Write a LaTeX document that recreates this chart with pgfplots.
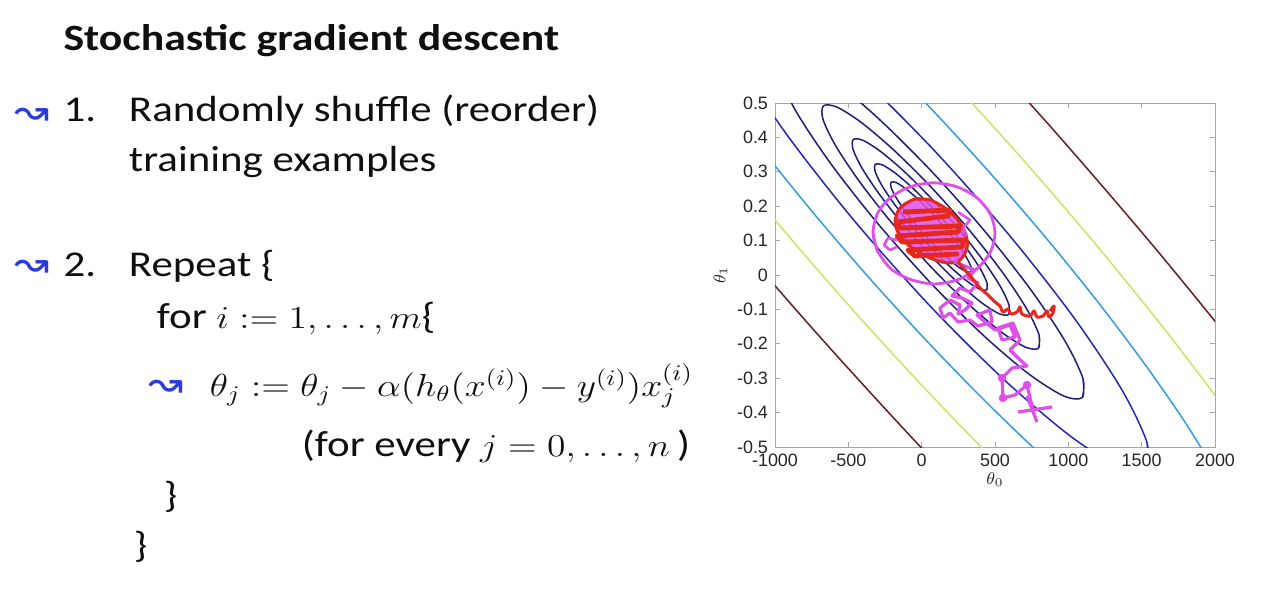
\RequirePackage{fix-cm}
\documentclass[border=0pt]{standalone}
\usepackage[no-math]{fontspec}
\setmainfont{Carlito}
\newfontfamily\tickfont{Liberation Sans}
\newfontfamily\arrowfont{DejaVu Sans}
\usepackage{graphicx}
\usepackage{xcolor}
\usepackage{pgfplots}
\pgfplotsset{compat=1.18}
\definecolor{cnavy}{RGB}{30,30,120}
\definecolor{cblue}{RGB}{35,40,175}
\definecolor{clight}{RGB}{50,155,225}
\definecolor{clime}{RGB}{198,230,100}
\definecolor{cdred}{RGB}{105,30,30}
\definecolor{cmag}{RGB}{222,80,232}
\definecolor{cred}{RGB}{228,40,30}
\definecolor{penblue}{RGB}{40,60,225}
\definecolor{txt}{RGB}{15,15,15}
\newcommand\bodyfont{\fontsize{18.25}{22}\selectfont}
\newcommand\mathsz{\fontsize{16}{19}\selectfont}
\newcommand\pen{\arrowfont\fontsize{21}{24}\selectfont\color{penblue}↝}
\begin{document}
\begin{tikzpicture}
\useasboundingbox (0,0) rectangle (640bp,-295.5bp);
\begin{scope}[x=0.5bp,y=-0.5bp,every node/.style={inner sep=0pt,outer sep=0pt,text=txt}]
\node[anchor=base west] at (63.5,50) {\scalebox{1.18}[1]{\fontsize{18.6}{22}\selectfont\bfseries Stochastic gradient descent}};
\node[anchor=base west] at (63.5,121.7) {\scalebox{1.18}[1]{\bodyfont 1.}};
\node[anchor=base west] at (129,121.7) {\scalebox{1.18}[1]{\bodyfont Randomly shuffle (reorder)}};
\node[anchor=base west] at (129,171.7) {\scalebox{1.18}[1]{\bodyfont training examples}};
\node[anchor=base west] at (63.5,276.7) {\scalebox{1.18}[1]{\bodyfont 2.}};
\node[anchor=base west] at (129,276.7) {\scalebox{1.18}[1]{\bodyfont Repeat \{}};
\node[anchor=base west] at (157,328.3) {\scalebox{1.18}[1]{\bodyfont for {\mathsz$i := 1,\ldots,m$}\{}};
\node[anchor=base west] at (210,396.7) {\scalebox{1.18}[1]{\mathsz$\theta_j := \theta_j - \alpha(h_\theta(x^{(i)}) - y^{(i)})x_j^{(i)}$}};
\node[anchor=base west] at (302,456.7) {\scalebox{1.18}[1]{\bodyfont (for every {\mathsz$j = 0,\ldots,n$}\,)}};
\node[anchor=base west] at (164,508) {\scalebox{1.18}[1]{\bodyfont \}}};
\node[anchor=base west] at (134,558) {\scalebox{1.18}[1]{\bodyfont \}}};
\node[anchor=center] at (32,117) {\pen};
\node[anchor=center] at (32,269) {\pen};
\node[anchor=center] at (166,389) {\pen};
\end{scope}
\begin{axis}[
  at={(387.5bp,-223.5bp)}, anchor=south west,
  width=220bp, height=172bp, scale only axis,
  xmin=-1000, xmax=2000, ymin=-0.5, ymax=0.5,
  xtick={-1000,-500,0,500,1000,1500,2000},
  xticklabels={-1000,-500,0,500,1000,1500,2000},
  ytick={-0.5,-0.4,-0.3,-0.2,-0.1,0,0.1,0.2,0.3,0.4,0.5},
  yticklabels={-0.5,-0.4,-0.3,-0.2,-0.1,0,0.1,0.2,0.3,0.4,0.5},
  tick label style={font=\tickfont\fontsize{9}{10}\selectfont, text=black!85},
  tick align=inside, major tick length=2.5bp,
  axis line style={gray!70, line width=0.4bp},
  tick style={gray!70, line width=0.4bp},
  xlabel={$\theta_0$}, ylabel={$\theta_1$},
  label style={font=\fontsize{8.5}{10}\selectfont, text=black!85},
  xlabel style={yshift=4bp},
  ylabel style={yshift=-2bp},
  clip=true,
]
% ---- contour lines of the cost function ----
\addplot[cdred, smooth, line width=0.75bp] coordinates {(2871.1,-0.6174) (2260.2,-0.2734) (1582.6,0.0827) (859.2,0.4406) (111.5,0.7894)};
\addplot[cdred, smooth, line width=0.75bp] coordinates {(-2133,0.5524) (-1455.4,0.1963) (-732,-0.1616) (15.7,-0.5104) (765.1,-0.8394)};
\addplot[clime, smooth, line width=0.75bp] coordinates {(2488.5,-0.6444) (2106.3,-0.4112) (1661.8,-0.1609) (1168.8,0.0982) (642.5,0.3586) (98.4,0.6123) (-446.8,0.8517)};
\addplot[clime, smooth, line width=0.75bp] coordinates {(-1979.1,0.6902) (-1534.6,0.4399) (-1041.6,0.1808) (-515.3,-0.0796) (28.8,-0.3333) (574,-0.5727) (1103.6,-0.7905)};
\addplot[clight, smooth, line width=0.75bp] coordinates {(1990.2,-0.5606) (1772.8,-0.4131) (1503.4,-0.2487) (1190.1,-0.0723) (842.6,0.1104) (471.6,0.2939) (88.2,0.4728) (-296.2,0.6415)};
\addplot[clight, smooth, line width=0.75bp] coordinates {(-1645.6,0.6921) (-1376.2,0.5277) (-1062.9,0.3513) (-715.4,0.1686) (-344.4,-0.0149) (39,-0.1938) (423.4,-0.3625) (796.6,-0.516) (1147.7,-0.6495)};
\addplot[cblue, smooth, line width=0.75bp] coordinates {(1530.2,-0.5649) (1536.0,-0.4868) (1364.1,-0.3331) (1035.4,-0.1225) (589.4,0.1198) (80.2,0.3645) (-431.2,0.5820) (-882.9,0.7461) (-1220.4,0.8371) (-1403.0,0.8439) (-1408.8,0.7658) (-1236.9,0.6121) (-908.2,0.4015) (-462.2,0.1592) (47.0,-0.0855) (558.4,-0.3030) (1010.1,-0.4671) (1347.6,-0.5581) (1530.2,-0.5649) (1536.0,-0.4868)};
\addplot[cnavy, smooth, line width=0.75bp] coordinates {(1095.7,-0.3562) (1099.7,-0.3012) (978.8,-0.1930) (747.5,-0.0449) (433.6,0.1257) (75.3,0.2978) (-284.6,0.4509) (-602.4,0.5664) (-840.0,0.6304) (-968.5,0.6352) (-972.5,0.5802) (-851.6,0.4720) (-620.3,0.3239) (-306.4,0.1533) (51.9,-0.0188) (411.8,-0.1719) (729.6,-0.2874) (967.2,-0.3514) (1095.7,-0.3562) (1099.7,-0.3012)};
\addplot[cnavy, smooth, line width=0.75bp] coordinates {(796.9,-0.2127) (799.8,-0.1736) (713.8,-0.0968) (549.5,0.0085) (326.5,0.1297) (71.9,0.2520) (-183.8,0.3607) (-409.6,0.4428) (-578.4,0.4883) (-669.7,0.4917) (-672.6,0.4526) (-586.6,0.3758) (-422.3,0.2705) (-199.3,0.1493) (55.3,0.0270) (311.0,-0.0817) (536.8,-0.1638) (705.6,-0.2093) (796.9,-0.2127) (799.8,-0.1736)};
\addplot[cnavy, smooth, line width=0.75bp] coordinates {(593.2,-0.1149) (595.3,-0.0867) (533.2,-0.0311) (414.5,0.0449) (253.5,0.1324) (69.6,0.2207) (-115.1,0.2993) (-278.2,0.3585) (-400.1,0.3914) (-466.0,0.3939) (-468.1,0.3657) (-406.0,0.3101) (-287.3,0.2341) (-126.3,0.1466) (57.6,0.0583) (242.3,-0.0203) (405.4,-0.0795) (527.3,-0.1124) (593.2,-0.1149) (595.3,-0.0867)};
\addplot[cnavy, smooth, line width=0.75bp] coordinates {(443.8,-0.0431) (445.3,-0.0229) (400.8,0.0170) (315.6,0.0716) (199.9,0.1344) (67.9,0.1978) (-64.7,0.2542) (-181.8,0.2968) (-269.3,0.3204) (-316.6,0.3221) (-318.1,0.3019) (-273.6,0.2620) (-188.4,0.2074) (-72.7,0.1446) (59.3,0.0812) (191.9,0.0248) (309.0,-0.0178) (396.5,-0.0414) (443.8,-0.0431) (445.3,-0.0229)};
\addplot[cnavy, smooth, line width=0.75bp] coordinates {(335.2,0.0091) (336.3,0.0235) (304.4,0.0520) (243.6,0.0910) (161.0,0.1359) (66.7,0.1812) (-28.0,0.2214) (-111.7,0.2518) (-174.2,0.2687) (-208.0,0.2700) (-209.1,0.2555) (-177.2,0.2270) (-116.4,0.1880) (-33.8,0.1431) (60.5,0.0978) (155.2,0.0576) (238.9,0.0272) (301.4,0.0103) (335.2,0.0091) (336.3,0.0235)};
% ---- hand-drawn annotations ----
\addplot[cmag, smooth, line width=1.4bp] coordinates {(-300,0.0665) (-332,0.122) (-300,0.18) (-210,0.226) (-75,0.257) (84,0.268) (243,0.256) (378,0.224) (468,0.177) (500,0.122) (468,0.066) (378,0.019) (243,-0.014) (84,-0.026) (-75,-0.013) (-210,0.018) (-300,0.07) (-330,0.12)};
\addplot[draw=none, fill=cmag, fill opacity=0.85, smooth] coordinates {(-45.5,0.2209) (56.8,0.218) (159.1,0.1948) (247.7,0.1599) (302.2,0.1163) (309.1,0.0785) (261.3,0.0436) (179.5,0.0349) (56.8,0.0494) (-65.9,0.0785) (-147.7,0.1134) (-181.8,0.1541) (-147.7,0.1948) (-45.5,0.2209)};
\addplot[cred, line width=2.4bp, line join=round, line cap=round] coordinates {(-113.7,0.1831) (193.2,0.189) (179.5,0.1715) (-161.4,0.1541) (-147.7,0.1366) (261.3,0.1424) (247.7,0.125) (-168.2,0.1134) (-134.1,0.0959) (288.6,0.1017) (275.0,0.0814) (-93.2,0.0727) (-45.5,0.0552) (240.9,0.061)};
\addplot[cred, smooth, line width=1.5bp] coordinates {(-45.5,0.2209) (56.8,0.218) (159.1,0.1948) (247.7,0.1599) (302.2,0.1163) (309.1,0.0785) (261.3,0.0436) (179.5,0.0349) (56.8,0.0494) (-65.9,0.0785) (-147.7,0.1134) (-181.8,0.1541) (-147.7,0.1948) (-45.5,0.2209) (56.8,0.218)};
\addplot[cmag, line width=1.3bp, line join=round] coordinates {(-168.2,0.1017) (-229.6,0.1076) (-256.8,0.0872) (-215.9,0.0727) (-168.2,0.0814)};
\addplot[cmag, line width=1.3bp, line join=round] coordinates {(247.7,0.1831) (329.5,0.1599) (281.8,0.1366) (309.1,0.1134)};
\addplot[cmag, line width=1.6bp, line join=round] coordinates {(759.0,-0.3924) (718.1,-0.3198) (636.3,-0.3488) (554.5,-0.3576) (547.7,-0.2994) (615.9,-0.2704) (718.1,-0.2645) (656.8,-0.2413) (602.2,-0.218) (670.4,-0.189) (622.7,-0.1395) (520.4,-0.1541) (547.7,-0.189) (636.3,-0.1802) (602.2,-0.1454) (500,-0.1599) (431.8,-0.1366) (377.2,-0.1163) (465.9,-0.1017) (479.5,-0.1366) (384.1,-0.1483) (329.5,-0.1308) (247.7,-0.1366) (193.2,-0.1105) (145.4,-0.125) (125.0,-0.0959) (193.2,-0.0727) (261.3,-0.0872) (247.7,-0.1134) (295.4,-0.1017) (343.1,-0.0814) (275.0,-0.0669) (206.8,-0.061) (261.3,-0.0378) (329.5,-0.0494) (384.1,-0.0233) (315.9,-0.0087) (363.6,0.0145) (275.0,0.0291) (227.2,0.0378) (247.7,0.0552)};
\addplot[cred, line width=1.5bp, smooth, line join=round] coordinates {(247.7,0.0378) (295.4,0.0145) (343.1,-0.0087) (397.7,-0.0378) (452.2,-0.0581) (500,-0.0785) (534.1,-0.0901) (554.5,-0.1076) (588.6,-0.0988) (609.0,-0.1134) (650.0,-0.1076) (670.4,-0.093) (684.0,-0.1134) (738.6,-0.1192) (765.9,-0.1047) (786.3,-0.1221) (827.2,-0.1192) (854.5,-0.1047) (868.1,-0.1221) (895.4,-0.1105) (902.2,-0.0901) (875.0,-0.1047)};
\addplot[cmag, line width=1.6bp] coordinates {(656.8,-0.3983) (888.6,-0.3837)};
\addplot[cmag, line width=1.6bp] coordinates {(718.1,-0.3518) (786.3,-0.4273)};
\addplot[only marks, mark=*, mark size=1.9bp, cmag] coordinates {(718.1,-0.3198) (554.5,-0.3576) (547.7,-0.2994)};
\end{axis}
\end{tikzpicture}
\end{document}
